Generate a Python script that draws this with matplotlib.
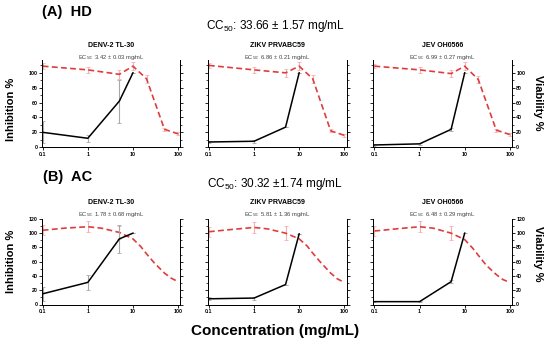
import numpy as np
import matplotlib
matplotlib.use('Agg')
import matplotlib.pyplot as plt
from matplotlib.ticker import MultipleLocator, FixedLocator, NullLocator

plt.rcParams['font.family'] = ['Liberation Sans', 'DejaVu Sans']
plt.rcParams['mathtext.fontset'] = 'custom'
plt.rcParams['mathtext.rm'] = 'Liberation Sans'
plt.rcParams['mathtext.it'] = 'Liberation Sans'

# concentrations (mg/mL)
conc_inh = [0.1, 1, 5, 10]
conc_via_hd = [0.1, 1, 5, 10, 20, 50, 100]
conc_via_ac = [0.1, 0.3, 1, 2, 5, 10, 15, 20, 30, 50, 70, 100]
conc_via_ac_err = [0.1, 1, 5]

viruses = ['DENV-2 TL-30', 'ZIKV PRVABC59', 'JEV OH0566']

# (A) HD
hd_ec50 = ['3.42 ± 0.03', '6.86 ± 0.21', '6.99 ± 0.27']
hd_denv_inh = [20, 12, 62, 100]
hd_denv_inh_err = [15, 5, 29, 0]
hd_zikv_inh = [7, 8, 27, 100]
hd_zikv_inh_err = [2, 2, 0, 0]
hd_jev_inh = [3, 4.5, 24, 100]
hd_jev_inh_err = [1, 1, 2, 0]
hd_denv_via = [109, 104, 98, 109, 92, 24, 18]
hd_zikv_via = [110, 104, 100, 109, 92, 22, 16]
hd_jev_via = [109, 104, 99, 109, 91, 23, 17]
hd_denv_via_err = [4, 4, 6, 5, 5, 2, 2]
hd_zikv_via_err = [3, 4, 5, 5, 5, 2, 2]
hd_jev_via_err = [3, 4, 5, 5, 5, 2, 2]

# (B) AC
ac_ec50 = ['1.78 ± 0.68', '5.81 ± 1.36', '6.48 ± 0.29']
ac_denv_inh = [15, 31, 92, 100]
ac_denv_inh_err = [10, 11, 20, 0]
ac_zikv_inh = [8, 9, 28, 99]
ac_zikv_inh_err = [2, 2, 0, 0]
ac_jev_inh = [4, 4, 32, 100]
ac_jev_inh_err = [1, 1, 2, 0]
ac_denv_via = [104, 107, 109, 107, 101, 92, 81, 71, 58, 44, 37, 32]
ac_zikv_via = [102, 105, 108, 106, 100, 92, 82, 72, 59, 44, 36, 31]
ac_jev_via = [103, 106, 109, 107, 100, 91, 79, 69, 55, 42, 35, 31]
ac_denv_via_err = [7, 8, 9]
ac_zikv_via_err = [7, 8, 10]
ac_jev_via_err = [7, 8, 10]

RED = '#e03c3c'

fig = plt.figure(figsize=(5.5, 3.48), dpi=100)

lefts = [0.0758, 0.378, 0.679]
width = 0.252


def panel(left, bottom, height, ymax, inh, inh_err, via_x, via, via_err_x, via_y_err, via_err,
          title, ec50, first, last, t_off, e_off):
    ax = fig.add_axes([left, bottom, width, height])
    ax2 = ax.twinx()
    ax.set_xscale('log')
    ax.set_xlim(0.095, 112)
    ax.set_ylim(0, ymax)
    ax2.set_ylim(0, ymax)
    # viability (red dashed)
    ax2.errorbar(via_err_x, via_y_err, yerr=via_err, fmt='none', ecolor='#f4b0b0',
                 elinewidth=0.8, capsize=1.5, capthick=0.6, zorder=2)
    ax2.plot(via_x, via, color=RED, lw=1.2, ls=(0, (3.5, 2)), zorder=3)
    # inhibition (black)
    ax.errorbar(conc_inh, inh, yerr=inh_err, fmt='none', ecolor='#a8a8a8',
                elinewidth=0.8, capsize=1.5, capthick=0.6, zorder=2)
    ax.plot(conc_inh, inh, color='black', lw=1.1, zorder=3)

    for a in (ax, ax2):
        a.spines['top'].set_visible(False)
        for s in a.spines.values():
            s.set_linewidth(0.7)
        a.yaxis.set_major_locator(MultipleLocator(20))
        a.yaxis.set_minor_locator(MultipleLocator(10))
        a.tick_params(axis='y', which='major', length=2, width=0.6, labelsize=3.8, pad=1)
        a.tick_params(axis='y', which='minor', length=1.2, width=0.5)
    ax.xaxis.set_major_locator(FixedLocator([0.1, 1, 10, 100]))
    ax.xaxis.set_minor_locator(NullLocator())
    ax.set_xticklabels(['0.1', '1', '10', '100'], fontsize=3.8, fontweight='bold')
    ax.tick_params(axis='x', length=2, width=0.6, pad=1.5)
    for lab in ax.get_yticklabels() + ax2.get_yticklabels():
        lab.set_fontweight('bold')
    if not first:
        ax.tick_params(axis='y', labelleft=False)
    if not last:
        ax2.tick_params(axis='y', labelright=False)
    ax.set_zorder(ax2.get_zorder() + 1)
    ax.patch.set_visible(False)

    top = bottom + height
    cx = left + width / 2
    fig.text(cx, top + t_off, title, ha='center', va='center', fontsize=5,
             fontweight='bold')
    fig.text(cx, top + e_off, 'EC$_{50}$: ' + ec50 + ' mg/mL', ha='center',
             va='center', fontsize=4.2, color='#444444')
    return ax


hd_inh = [hd_denv_inh, hd_zikv_inh, hd_jev_inh]
hd_inh_e = [hd_denv_inh_err, hd_zikv_inh_err, hd_jev_inh_err]
hd_via = [hd_denv_via, hd_zikv_via, hd_jev_via]
hd_via_e = [hd_denv_via_err, hd_zikv_via_err, hd_jev_via_err]
ac_inh = [ac_denv_inh, ac_zikv_inh, ac_jev_inh]
ac_inh_e = [ac_denv_inh_err, ac_zikv_inh_err, ac_jev_inh_err]
ac_via = [ac_denv_via, ac_zikv_via, ac_jev_via]
ac_via_e = [ac_denv_via_err, ac_zikv_via_err, ac_jev_via_err]

for i in range(3):
    panel(lefts[i], 0.577, 0.250, 117, hd_inh[i], hd_inh_e[i], conc_via_hd, hd_via[i],
          conc_via_hd, hd_via[i], hd_via_e[i], viruses[i], hd_ec50[i], i == 0, i == 2,
          0.041, 0.009)
    ac_y_err = [ac_via[i][conc_via_ac.index(c)] for c in conc_via_ac_err]
    panel(lefts[i], 0.125, 0.246, 120, ac_inh[i], ac_inh_e[i], conc_via_ac, ac_via[i],
          conc_via_ac_err, ac_y_err, ac_via_e[i], viruses[i], ac_ec50[i], i == 0, i == 2,
          0.046, 0.014)

fig.text(0.076, 0.966, '(A)  HD', fontsize=10.5, fontweight='bold', ha='left', va='center')
fig.text(0.078, 0.492, '(B)  AC', fontsize=10.5, fontweight='bold', ha='left', va='center')
fig.text(0.5, 0.925, 'CC$_{50}$: 33.66 ± 1.57 mg/mL', fontsize=8.5, ha='center', va='center')
fig.text(0.5, 0.471, 'CC$_{50}$: 30.32 ±1.74 mg/mL', fontsize=8.5, ha='center', va='center')

for yc in (0.685, 0.25):
    fig.text(0.02, yc, 'Inhibition %', rotation=90, fontsize=8, fontweight='bold',
             ha='center', va='center')
    fig.text(0.978, yc + 0.02, 'Viability %', rotation=-90, fontsize=8, fontweight='bold',
             ha='center', va='center')

fig.text(0.5, 0.05, 'Concentration (mg/mL)', fontsize=11, fontweight='bold',
         ha='center', va='center')

plt.savefig('out.png', dpi=100)
